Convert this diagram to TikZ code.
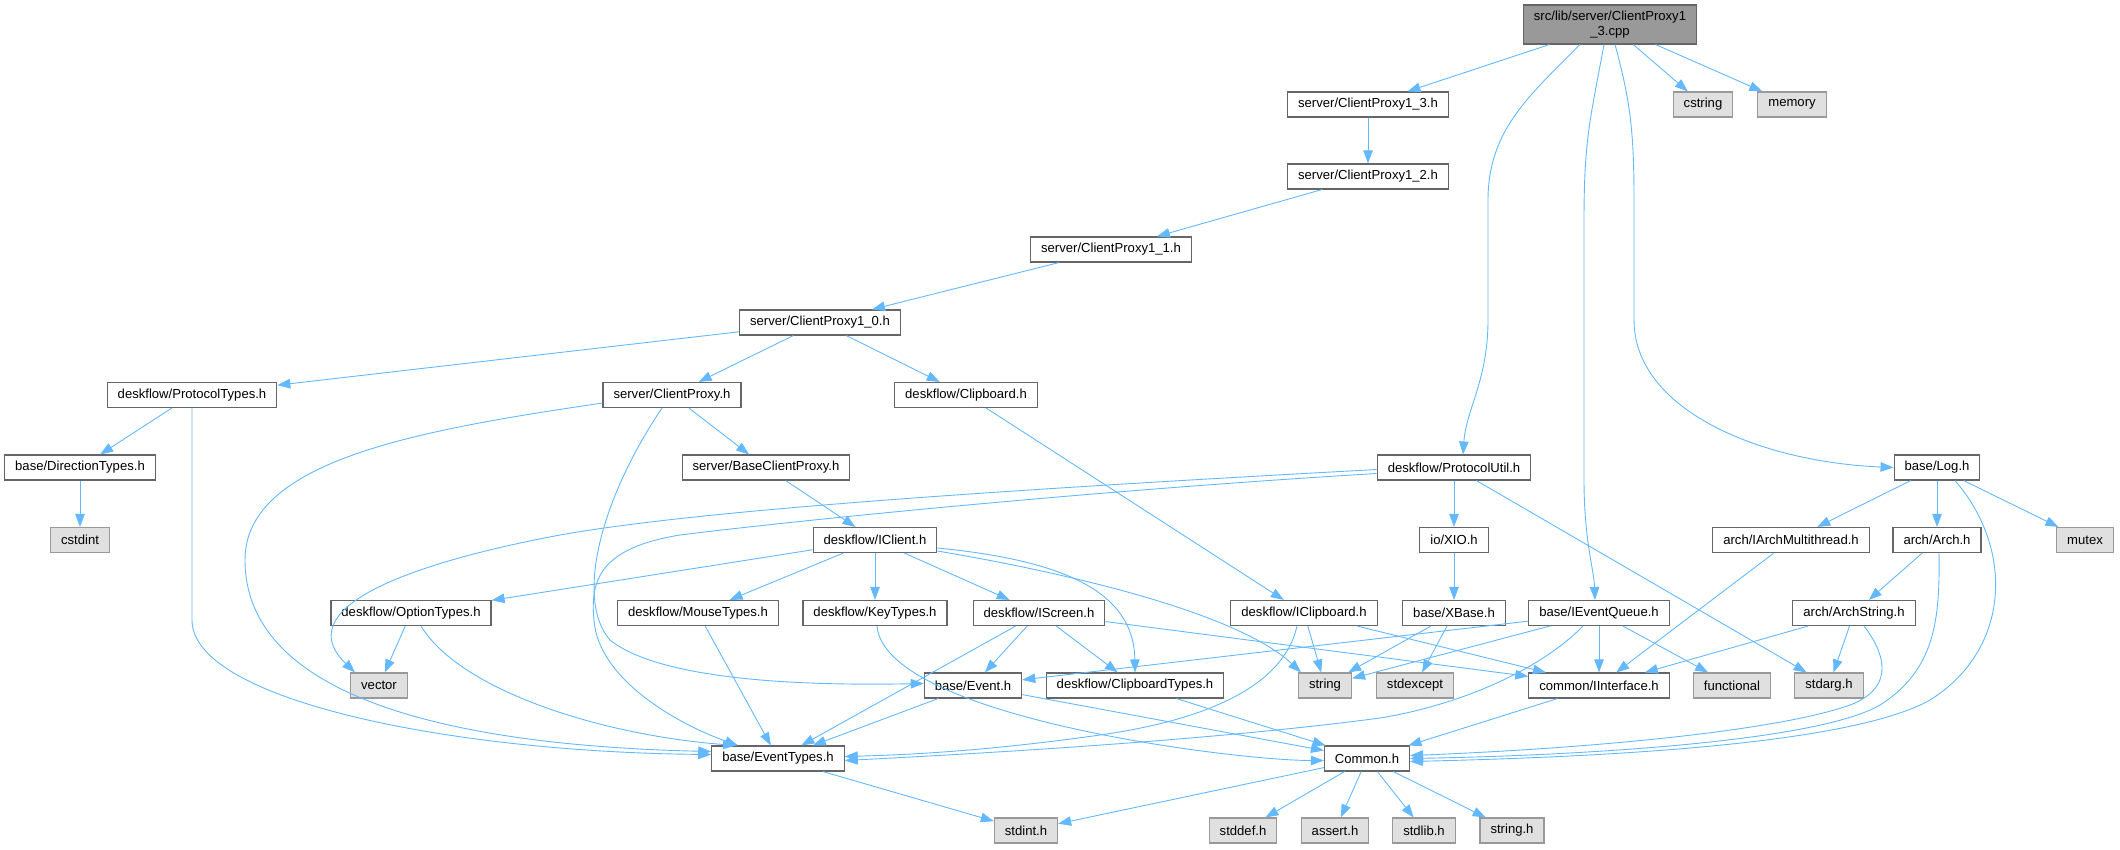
\documentclass[tikz,border=0pt]{standalone}
\usepackage{fontspec}
\setmainfont{Liberation Sans}
\usepackage{xcolor}
\usepackage{tikz}
\usetikzlibrary{arrows.meta, positioning}

\definecolor{edgeblue}{HTML}{63B8FF}
\definecolor{nodeline}{HTML}{666666}
\definecolor{sysline}{HTML}{999999}
\definecolor{sysfill}{HTML}{E0E0E0}
\definecolor{rootfill}{HTML}{999999}

\begin{document}
\begin{tikzpicture}[
    x=1pt, y=-1pt,
    font=\fontsize{13.1}{15.6}\selectfont,
    hdr/.style={rectangle, draw=nodeline, fill=white, line width=1.1pt, inner xsep=10.5pt, inner ysep=0pt, minimum height=25pt, text=black},
    sys/.style={hdr, draw=sysline, fill=sysfill},
    root/.style={hdr, fill=rootfill, align=center, minimum height=39pt},
    dep/.style={-{Triangle[length=13pt, width=9.5pt]}, draw=edgeblue, line width=0.9pt}
]
\useasboundingbox (0,0) rectangle (2120,849);

% nodes, one row per rank
\node[root] (cpp) at (1610,24.5) {src/lib/server/ClientProxy1\\\_3.cpp};
\node[hdr] (cp13) at (1368,104.5) {server/ClientProxy1\_3.h};
\node[sys] (cstring) at (1703,104.5) {cstring};
\node[sys] (memory) at (1792,104.5) {memory};
\node[hdr] (cp12) at (1368,176.5) {server/ClientProxy1\_2.h};
\node[hdr] (cp11) at (1111,249.5) {server/ClientProxy1\_1.h};
\node[hdr] (cp10) at (820,322.5) {server/ClientProxy1\_0.h};
\node[hdr] (prototypes) at (192,395) {deskflow/ProtocolTypes.h};
\node[hdr] (clientproxy) at (672,395) {server/ClientProxy.h};
\node[hdr] (clipboard) at (966,395) {deskflow/Clipboard.h};
\node[hdr] (dirtypes) at (80,467.5) {base/DirectionTypes.h};
\node[hdr] (baseproxy) at (766,467.5) {server/BaseClientProxy.h};
\node[hdr] (protoutil) at (1454,467.5) {deskflow/ProtocolUtil.h};
\node[hdr] (log) at (1937,467.5) {base/Log.h};
\node[sys] (cstdint) at (80,540) {cstdint};
\node[hdr] (iclient) at (875,540) {deskflow/IClient.h};
\node[hdr] (xio) at (1454,540) {io/XIO.h};
\node[hdr] (iarchmt) at (1791,540) {arch/IArchMultithread.h};
\node[hdr] (arch) at (1937,540) {arch/Arch.h};
\node[sys] (mutex) at (2085,540) {mutex};
\node[hdr] (opttypes) at (411,613) {deskflow/OptionTypes.h};
\node[hdr] (mousetypes) at (698,613) {deskflow/MouseTypes.h};
\node[hdr] (keytypes) at (875,613) {deskflow/KeyTypes.h};
\node[hdr] (iscreen) at (1039,613) {deskflow/IScreen.h};
\node[hdr] (iclipboard) at (1304,613) {deskflow/IClipboard.h};
\node[hdr] (xbase) at (1454,613) {base/XBase.h};
\node[hdr] (ievq) at (1599,613) {base/IEventQueue.h};
\node[hdr] (archstring) at (1854,613) {arch/ArchString.h};
\node[sys] (vector) at (379,685.5) {vector};
\node[hdr] (event) at (973,685.5) {base/Event.h};
\node[hdr] (cliptypes) at (1135,685.5) {deskflow/ClipboardTypes.h};
\node[sys] (string) at (1325,685.5) {string};
\node[sys] (stdexcept) at (1415,685.5) {stdexcept};
\node[hdr] (iinterface) at (1599,685.5) {common/IInterface.h};
\node[sys] (functional) at (1732,685.5) {functional};
\node[sys] (stdarg) at (1829,685.5) {stdarg.h};
\node[hdr] (eventtypes) at (778,758.5) {base/EventTypes.h};
\node[hdr] (common) at (1367,758.5) {Common.h};
\node[sys] (stdinth) at (1026,830.5) {stdint.h};
\node[sys] (stddefh) at (1243,830.5) {stddef.h};
\node[sys] (asserth) at (1335,830.5) {assert.h};
\node[sys] (stdlibh) at (1424,830.5) {stdlib.h};
\node[sys] (stringh) at (1512,830.5) {string.h};

% straight includes
\draw[dep] (cpp) -- (cp13);
\draw[dep] (cpp) -- (cstring);
\draw[dep] (cpp) -- (memory);
\draw[dep] (cp13) -- (cp12);
\draw[dep] (cp12) -- (cp11);
\draw[dep] (cp11) -- (cp10);
\draw[dep] (cp10) -- (prototypes);
\draw[dep] (cp10) -- (clientproxy);
\draw[dep] (cp10) -- (clipboard);
\draw[dep] (prototypes) -- (dirtypes);
\draw[dep] (dirtypes) -- (cstdint);
\draw[dep] (clientproxy) -- (baseproxy);
\draw[dep] (clipboard) -- (iclipboard);
\draw[dep] (baseproxy) -- (iclient);
\draw[dep] (protoutil) -- (xio);
\draw[dep] (protoutil) -- (stdarg);
\draw[dep] (xio) -- (xbase);
\draw[dep] (log) -- (iarchmt);
\draw[dep] (log) -- (arch);
\draw[dep] (log) -- (mutex);
\draw[dep] (arch) -- (archstring);
\draw[dep] (iarchmt) -- (iinterface);
\draw[dep] (iclient) -- (opttypes);
\draw[dep] (iclient) -- (mousetypes);
\draw[dep] (iclient) -- (keytypes);
\draw[dep] (iclient) -- (iscreen);
\draw[dep] (opttypes) -- (vector);
\draw[dep] (mousetypes) -- (eventtypes);
\draw[dep] (iscreen) -- (eventtypes);
\draw[dep] (iscreen) -- (event);
\draw[dep] (iscreen) -- (cliptypes);
\draw[dep] (iscreen) -- (iinterface);
\draw[dep] (iclipboard) -- (string);
\draw[dep] (iclipboard) -- (iinterface);
\draw[dep] (xbase) -- (string);
\draw[dep] (xbase) -- (stdexcept);
\draw[dep] (ievq) -- (event);
\draw[dep] (ievq) -- (string);
\draw[dep] (ievq) -- (iinterface);
\draw[dep] (ievq) -- (functional);
\draw[dep] (archstring) -- (iinterface);
\draw[dep] (archstring) -- (stdarg);
\draw[dep] (event) -- (eventtypes);
\draw[dep] (event) -- (common);
\draw[dep] (cliptypes) -- (common);
\draw[dep] (iinterface) -- (common);
\draw[dep] (eventtypes) -- (stdinth);
\draw[dep] (common) -- (stdinth);
\draw[dep] (common) -- (stddefh);
\draw[dep] (common) -- (asserth);
\draw[dep] (common) -- (stdlibh);
\draw[dep] (common) -- (stringh);

% curved includes
\draw[dep] ([xshift=-30]cpp.south) .. controls (1530,95) and (1488,130) .. (1488,200) -- (1488,320) .. controls (1488,380) and (1466,410) .. ([xshift=9]protoutil.north);
\draw[dep] ([xshift=-6]cpp.south) .. controls (1590,120) and (1584,140) .. (1584,220) -- (1584,480) .. controls (1584,540) and (1594,570) .. ([xshift=-4]ievq.north);
\draw[dep] ([xshift=5]cpp.south) .. controls (1630,100) and (1634,130) .. (1634,200) -- (1634,320) .. controls (1634,410) and (1760,462) .. (log.west);
\draw[dep] (prototypes.south) -- (192,620) .. controls (192,700) and (450,752) .. ([yshift=4]eventtypes.west);
\draw[dep] ([yshift=-8]clientproxy.west) .. controls (420,430) and (245,460) .. (245,560) .. controls (245,690) and (430,745) .. ([yshift=7]eventtypes.west);
\draw[dep] ([xshift=-10]clientproxy.south) .. controls (600,500) and (575,600) .. (610,640) .. controls (660,680) and (800,686) .. ([yshift=2]event.west);
\draw[dep] ([yshift=-2]protoutil.west) .. controls (1000,490) and (700,510) .. (560,535) .. controls (400,565) and (290,610) .. ([xshift=-24]vector.north);
\draw[dep] ([yshift=-6]protoutil.west) .. controls (1100,490) and (800,520) .. (680,535) .. controls (600,548) and (590,580) .. (594,620) .. controls (598,680) and (680,725) .. ([xshift=-40]eventtypes.north);
\draw[dep] ([yshift=-8]iclient.east) .. controls (1060,560) and (1134,590) .. (cliptypes.north);
\draw[dep] ([yshift=-11]iclient.east) .. controls (1080,575) and (1240,615) .. ([xshift=-24]string.north);
\draw[dep] ([xshift=10]opttypes.south) .. controls (460,690) and (600,735) .. ([xshift=-42]eventtypes.north);
\draw[dep] ([xshift=2]keytypes.south) to[out=275, in=180, looseness=0.5] ([yshift=-2]common.west);
\draw[dep] ([xshift=-7]iclipboard.south) .. controls (1285,680) and (1220,718) .. (1100,735) .. controls (980,752) and (900,755) .. ([yshift=2]eventtypes.east);
\draw[dep] ([xshift=-16]ievq.south) .. controls (1540,670) and (1460,705) .. (1380,718) .. controls (1200,742) and (950,755) .. ([yshift=-2]eventtypes.east);
\draw[dep] ([xshift=18]log.south) .. controls (2015,550) and (2010,650) .. (1930,700) .. controls (1850,745) and (1600,757) .. ([yshift=-3]common.east);
\draw[dep] ([xshift=2]arch.south) .. controls (1940,620) and (1935,670) .. (1880,705) .. controls (1820,740) and (1600,755) .. (common.east);
\draw[dep] ([xshift=10]archstring.south) .. controls (1890,660) and (1890,690) .. (1850,705) .. controls (1780,730) and (1600,748) .. ([yshift=3]common.east);

\end{tikzpicture}
\end{document}
